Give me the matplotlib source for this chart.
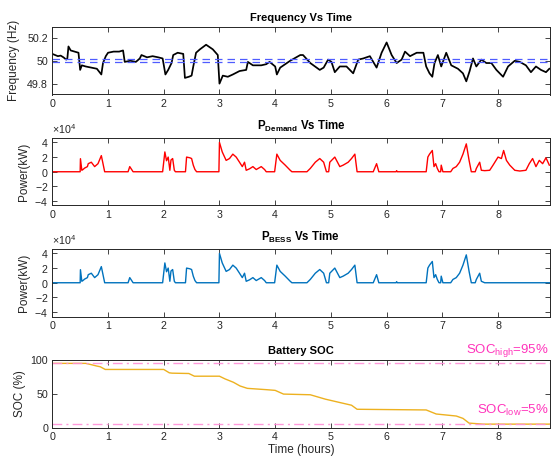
import numpy as np
import matplotlib
matplotlib.use("Agg")
import matplotlib.pyplot as plt
from matplotlib.ticker import FuncFormatter

# ---------------- data ----------------
freq_t = [0.00, 0.05, 0.10, 0.15, 0.20, 0.25, 0.27, 0.29, 0.33, 0.40, 0.47, 0.50, 0.53, 0.60, 0.70,
          0.80, 0.88, 0.91, 0.96, 1.00, 1.10, 1.20, 1.27, 1.30, 1.40, 1.50, 1.57, 1.60, 1.70, 1.80,
          1.90, 1.98, 2.03, 2.08, 2.14, 2.17, 2.25, 2.35, 2.38, 2.45, 2.50, 2.53, 2.58, 2.65, 2.76,
          2.88, 2.97, 3.00, 3.06, 3.15, 3.24, 3.36, 3.48, 3.51, 3.60, 3.75, 3.84, 3.90, 4.00, 4.03,
          4.09, 4.27, 4.45, 4.50, 4.63, 4.80, 4.87, 4.95, 5.01, 5.07, 5.16, 5.28, 5.40, 5.49, 5.58,
          5.70, 5.82, 5.91, 6.00, 6.09, 6.18, 6.27, 6.33, 6.42, 6.54, 6.66, 6.71, 6.77, 6.82, 6.86,
          6.92, 6.98, 7.07, 7.16, 7.28, 7.37, 7.43, 7.49, 7.55, 7.61, 7.70, 7.79, 7.88, 7.97, 8.09,
          8.18, 8.30, 8.39, 8.50, 8.59, 8.68, 8.77, 8.86, 8.92]
freq_hz = [50.06, 50.05, 50.04, 50.045, 50.03, 50.01, 50.02, 50.125, 50.09, 50.08, 50.07, 49.92, 49.96,
           49.95, 49.94, 49.93, 49.88, 49.98, 50.04, 50.07, 50.08, 50.08, 50.09, 49.99, 50.00, 49.99,
           50.02, 50.05, 50.03, 50.04, 50.03, 50.02, 49.88, 49.92, 49.98, 50.05, 50.07, 50.06, 49.85,
           49.86, 49.87, 49.95, 50.07, 50.10, 50.14, 50.10, 50.05, 49.80, 49.87, 49.86, 49.88, 49.91,
           49.92, 49.99, 49.96, 49.96, 49.97, 49.99, 49.95, 49.88, 49.94, 50.00, 50.05, 50.05, 49.98,
           49.92, 49.94, 50.01, 49.99, 49.90, 49.95, 49.95, 49.89, 50.01, 50.02, 50.04, 49.94, 50.07,
           50.16, 50.05, 49.98, 50.01, 50.08, 50.04, 50.07, 50.07, 49.95, 49.89, 49.86, 49.98, 50.05,
           49.95, 50.07, 49.96, 49.93, 49.89, 49.82, 49.91, 50.02, 49.95, 50.01, 49.98, 49.98, 49.92,
           49.86, 49.95, 50.00, 49.99, 49.96, 49.90, 49.95, 49.92, 49.90, 49.93]
f_nominal = 50.0
f_deadband = 0.015

pd_t = [0.00, 0.50, 0.505, 0.53, 0.55, 0.58, 0.63, 0.645, 0.70, 0.76, 0.82, 0.88, 0.91, 0.94, 1.36,
        1.39, 1.45, 1.98, 2.02, 2.05, 2.08, 2.11, 2.13, 2.16, 2.19, 2.21, 2.39, 2.41, 2.47, 2.50,
        2.53, 2.56, 2.59, 2.99, 3.00, 3.05, 3.12, 3.18, 3.24, 3.30, 3.36, 3.41, 3.45, 3.48, 3.54,
        3.60, 3.66, 3.75, 3.81, 3.84, 3.99, 4.03, 4.09, 4.18, 4.27, 4.30, 4.57, 4.63, 4.72, 4.80,
        4.87, 4.92, 4.96, 4.98, 5.07, 5.16, 5.22, 5.31, 5.37, 5.43, 5.47, 5.76, 5.82, 5.86, 6.17,
        6.18, 6.19, 6.71, 6.74, 6.77, 6.82, 6.85, 6.88, 6.91, 6.94, 6.97, 6.98, 7.01, 7.15, 7.19,
        7.25, 7.31, 7.37, 7.43, 7.48, 7.52, 7.59, 7.61, 7.67, 7.70, 7.76, 7.85, 7.91, 8.00, 8.06,
        8.10, 8.15, 8.21, 8.30, 8.39, 8.50, 8.56, 8.62, 8.68, 8.74, 8.80, 8.86, 8.92]
pd_kw_1e4 = [0, 0, 1.78, 0.2, 0.3, 0.5, 0.7, 1.1, 1.3, 0.7, 1.1, 2.2, 1.1, 0, 0,
             0.7, 0, 0, 2.7, 1.5, 2.0, 0.2, 1.6, 1.8, 0.2, 0, 0, 2.0, 1.9, 1.8,
             0.9, 0.3, 0, 0, 4.0, 2.7, 1.55, 1.8, 2.4, 2.0, 1.3, 0.7, 1.3, 0.2, 0.4,
             0.7, 0.3, 0.7, 0.3, 0, 0, 2.4, 1.55, 0.9, 0.2, 0, 0, 0.45, 1.3, 1.8,
             1.3, 0, 0, 1.3, 2.0, 0.7, 0.9, 1.3, 1.8, 2.4, 0, 0, 1.1, 0, 0,
             0.15, 0, 0, 2.0, 2.4, 2.9, 0.7, 1.1, 0.45, 0, 0, 0.9, 0, 0, 0.45,
             0.7, 1.3, 2.4, 3.8, 1.55, 0, 0, 0.45, 1.3, 0.2, 0.15, 0.2, 0.9, 2.0, 1.8,
             2.9, 1.55, 0.9, 0.2, 0.1, 0.2, 1.1, 1.8, 0.7, 1.55, 1.1, 1.9, 0.9]
bess_cutoff_h = 7.72   # BESS stops supplying once SOC hits the low limit

soc_t = [0.00, 0.60, 0.68, 0.80, 0.86, 0.95, 2.00, 2.10, 2.15, 2.45, 2.55, 3.00, 3.10, 3.25, 3.37,
         3.50, 3.85, 4.00, 4.15, 4.63, 4.90, 5.16, 5.37, 5.47, 6.71, 6.89, 7.25, 7.37, 7.48, 7.73, 8.92]
soc_pct = [95, 95, 93.5, 91, 90, 86, 86, 81, 80.5, 80, 76, 76, 72, 67, 61.5,
           58, 56, 55, 49.5, 48.5, 42, 37, 33, 27, 26, 20, 17, 13.5, 6.5, 5, 5]
soc_high = 95
soc_low = 5

xlim_h = (0, 8.925)
xticks_h = [0, 1, 2, 3, 4, 5, 6, 7, 8]

# ---------------- style ----------------
plt.rcParams['font.family'] = ['Liberation Sans', 'DejaVu Sans']
plt.rcParams['mathtext.fontset'] = 'custom'
plt.rcParams['mathtext.rm'] = 'Liberation Sans'
plt.rcParams['mathtext.bf'] = 'Liberation Sans:bold'
plt.rcParams['mathtext.it'] = 'Liberation Sans:italic'
dark = '#262626'

fig = plt.figure(figsize=(5.51, 4.61), dpi=100)
W, H = 551.0, 461.0
left_px, right_px = 52.3, 549.6
tops_px = [27, 138, 249, 360]
h_px = 67.5

axes = []
for tp in tops_px:
    ax = fig.add_axes([left_px / W, (H - tp - h_px) / H, (right_px - left_px) / W, h_px / H])
    axes.append(ax)

def style(ax):
    ax.set_xlim(*xlim_h)
    ax.set_xticks(xticks_h)
    ax.tick_params(direction='in', top=True, right=True, length=3.5, width=0.6,
                   labelsize=7.7, colors=dark, pad=3)
    for s in ax.spines.values():
        s.set_linewidth(0.7)
        s.set_color(dark)

# Frequency
ax = axes[0]
ax.plot(freq_t, freq_hz, color='black', lw=1.25)
ax.axhline(f_nominal + f_deadband, color='#4f5cff', lw=0.9, ls=(0, (6, 4)))
ax.axhline(f_nominal - f_deadband, color='#4f5cff', lw=0.9, ls=(0, (6, 4)))
ax.set_ylim(49.705, 50.295)
ax.set_yticks([49.8, 50.0, 50.2])
ax.yaxis.set_major_formatter(FuncFormatter(lambda v, p: f'{v:g}'))
ax.set_ylabel('Frequency (Hz)', fontsize=8.5, color=dark, labelpad=5)
ax.set_title('Frequency Vs Time', fontsize=8, fontweight='bold', pad=4.5)
style(ax)

pd_t_arr = np.array(pd_t)
pd_val = np.array(pd_kw_1e4) * 1e4
bess_val = np.where(pd_t_arr <= bess_cutoff_h, pd_val, 0.0)

def power_axes(ax, t, v, color, sub):
    ax.plot(t, v, color=color, lw=1.0)
    ax.set_ylim(-4.6e4, 4.6e4)
    ax.set_yticks([-4e4, -2e4, 0, 2e4, 4e4])
    ax.ticklabel_format(axis='y', style='sci', scilimits=(4, 4), useMathText=True)
    ax.yaxis.get_offset_text().set_fontsize(7.7)
    ax.yaxis.get_offset_text().set_color(dark)
    ax.set_ylabel('Power(kW)', fontsize=8.5, color=dark, labelpad=3)
    style(ax)
    ax.text(0.5, 1.06, r'$\mathbf{P}_{\mathbf{%s}}$ Vs Time' % sub, transform=ax.transAxes,
            ha='center', va='bottom', fontsize=8.3, fontweight='bold')

power_axes(axes[1], pd_t, pd_val, '#ff0000', 'Demand')
power_axes(axes[2], pd_t, bess_val, '#0072bd', 'BESS')

# SOC
ax = axes[3]
ax.plot(soc_t, soc_pct, color='#edb120', lw=1.0)
ax.axhline(soc_high, color='#ff8fd8', lw=1.0, ls=(0, (7, 3, 1.5, 3)), alpha=0.9)
ax.axhline(soc_low, color='#ff8fd8', lw=1.0, ls=(0, (7, 3, 1.5, 3)), alpha=0.9)
ax.set_ylim(0, 100)
ax.set_yticks([0, 50, 100])
ax.set_ylabel('SOC (%)', fontsize=8.5, color=dark, labelpad=3)
ax.set_xlabel('Time (hours)', fontsize=8.5, color=dark, labelpad=2)
ax.set_title('Battery SOC', fontsize=8, fontweight='bold', pad=4)
ax.text(8.9, 111, r'SOC$_{\mathrm{high}}$=%d%%' % soc_high, color='#ff33bb', fontsize=9.5,
        ha='right', va='baseline')
ax.text(8.9, 20.5, r'SOC$_{\mathrm{low}}$=%d%%' % soc_low, color='#ff33bb', fontsize=9.5,
        ha='right', va='baseline')
style(ax)

fig.savefig('out.png', dpi=100)
